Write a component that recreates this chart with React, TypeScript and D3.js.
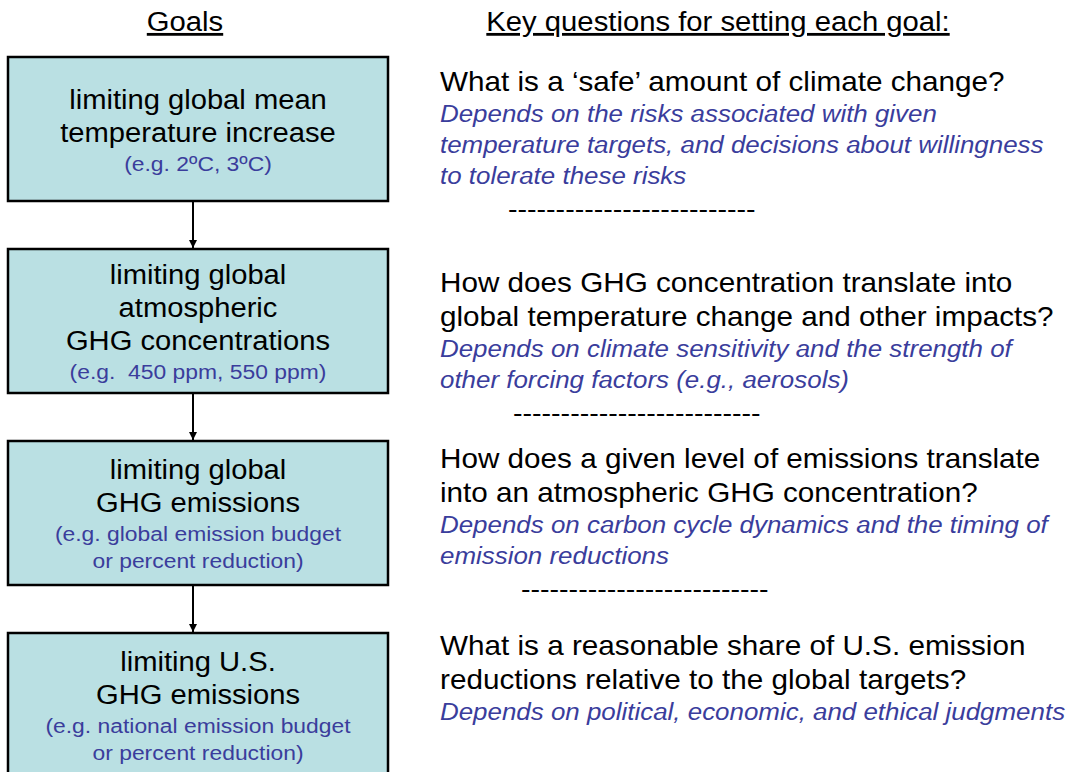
import React from 'react';
import * as d3 from 'd3';

const goalTitles = [
  ['limiting global mean', 'temperature increase'],
  ['limiting global', 'atmospheric', 'GHG concentrations'],
  ['limiting global', 'GHG emissions'],
  ['limiting U.S.', 'GHG emissions'],
];

const goalExamples = [
  ['(e.g. 2ºC, 3ºC)'],
  ['(e.g.  450 ppm, 550 ppm)'],
  ['(e.g. global emission budget', 'or percent reduction)'],
  ['(e.g. national emission budget', 'or percent reduction)'],
];

const questions = [
  ['What is a ‘safe’ amount of climate change?'],
  ['How does GHG concentration translate into', 'global temperature change and other impacts?'],
  ['How does a given level of emissions translate', 'into an atmospheric GHG concentration?'],
  ['What is a reasonable share of U.S. emission', 'reductions relative to the global targets?'],
];

const dependsOn = [
  ['Depends on the risks associated with given', 'temperature targets, and decisions about willingness', 'to tolerate these risks'],
  ['Depends on climate sensitivity and the strength of', 'other forcing factors (e.g., aerosols)'],
  ['Depends on carbon cycle dynamics and the timing of', 'emission reductions'],
  ['Depends on political, economic, and ethical judgments'],
];

const separator = '--------------------------';

// layout
const W = 1067;
const H = 772;
const FONT = 'Liberation Sans, Arial, Helvetica, sans-serif';
const BLUE = '#3a3d9c';
const FILL = '#bae0e3';
const boxX0 = 8;
const boxX1 = 388;
const arrowX = 193;
const qX = 440;
const qStart = [91, 292, 468, 655];
const sepX = [508, 513, 521];

// font size + horizontal stretch per text style (source text is a bit wide)
const sHead = { size: 28, sx: 1.045 };
const sMain = { size: 27, sx: 1.08 };
const sSub = { size: 21, sx: 1.09 };
const sQ = { size: 28, sx: 1.06 };
const sDep = { size: 24, sx: 1.08 };
const sSep = { size: 26, sx: 1.1 };

function T({ x, y, s, children, style, ...rest }: any) {
  return (
    <text
      transform={`translate(${x},${y}) scale(${s.sx},1)`}
      fontSize={s.size}
      style={{ whiteSpace: 'pre', ...style }}
      {...rest}
    >
      {children}
    </text>
  );
}

export default function App() {
  const idx = goalTitles.map((_, i) => i);
  const y = d3.scaleBand<number>()
    .domain(idx)
    .range([57, 777])
    .paddingInner(0.25)
    .paddingOuter(0);
  const bh = y.bandwidth();
  const cx = (boxX0 + boxX1) / 2;

  return (
    <svg width={W} height={H} style={{ position: 'absolute', left: 0, top: 0 }} fontFamily={FONT}>
      <defs>
        <marker id="ah" viewBox="0 0 10 10" refX="10" refY="5" markerWidth="9" markerHeight="8" markerUnits="userSpaceOnUse" orient="auto">
          <path d="M0,0 L10,5 L0,10 Z" fill="#000" />
        </marker>
      </defs>
      <rect width={W} height={H} fill="#fff" />

      <T x={185} y={31} s={sHead} textAnchor="middle" style={{ textDecoration: 'underline' }}>Goals</T>
      <T x={718} y={31} s={sHead} textAnchor="middle" style={{ textDecoration: 'underline' }}>Key questions for setting each goal:</T>

      {idx.map((i) => {
        const top = y(i) as number;
        const nMain = goalTitles[i].length;
        const nSub = goalExamples[i].length;
        const total = nMain * 33 + nSub * 27;
        const first = top + (bh - total) / 2 + 26;
        return (
          <g key={'b' + i}>
            <rect x={boxX0} y={top} width={boxX1 - boxX0} height={bh} fill={FILL} stroke="#000" strokeWidth={2.5} />
            {goalTitles[i].map((t, j) => (
              <T key={j} x={cx} y={first + j * 33} s={sMain} textAnchor="middle" fill="#000">{t}</T>
            ))}
            {goalExamples[i].map((t, j) => (
              <T key={'s' + j} x={cx} y={first + (nMain - 1) * 33 + 29 + j * 27} s={sSub} textAnchor="middle" fill={BLUE}>{t}</T>
            ))}
            {i < idx.length - 1 && (
              <line x1={arrowX} x2={arrowX} y1={top + bh} y2={(y(i + 1) as number) - 1} stroke="#000" strokeWidth={2} markerEnd="url(#ah)" />
            )}
          </g>
        );
      })}

      {idx.map((i) => {
        const q0 = qStart[i];
        const d0 = q0 + (questions[i].length - 1) * 34 + 31;
        const last = d0 + (dependsOn[i].length - 1) * 31;
        return (
          <g key={'q' + i}>
            {questions[i].map((t, j) => (
              <T key={j} x={qX} y={q0 + j * 34} s={sQ} fill="#000">{t}</T>
            ))}
            {dependsOn[i].map((t, j) => (
              <T key={'d' + j} x={qX} y={d0 + j * 31} s={sDep} fontStyle="italic" fill={BLUE}>{t}</T>
            ))}
            {i < sepX.length && (
              <T x={sepX[i]} y={last + 34} s={sSep} fill="#000">{separator}</T>
            )}
          </g>
        );
      })}
    </svg>
  );
}
